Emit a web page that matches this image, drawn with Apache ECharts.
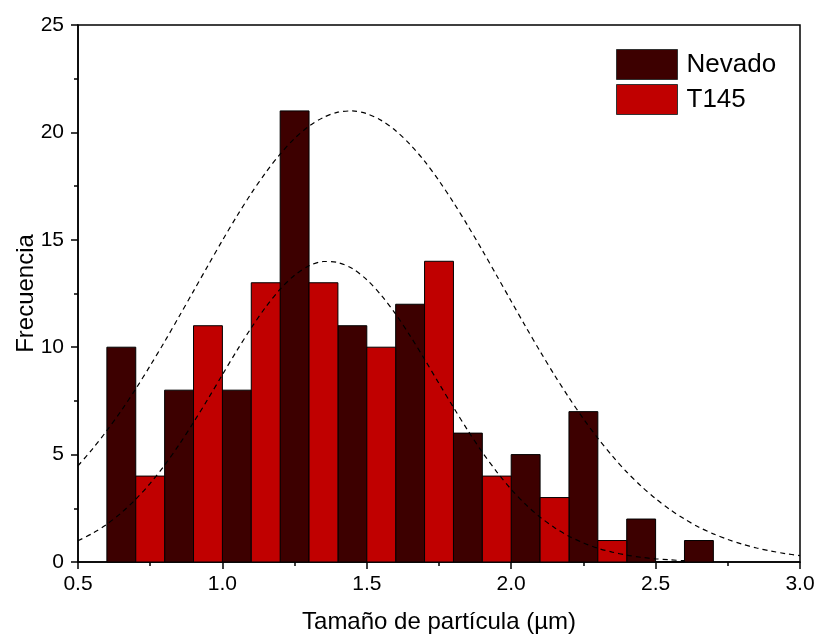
<!DOCTYPE html>
<html>
<head>
<meta charset="utf-8">
<script src="https://cdn.jsdelivr.net/npm/echarts@6/dist/echarts.min.js"></script>
<style>html,body{margin:0;padding:0;background:#fff}#c{width:818px;height:637px}</style>
</head>
<body>
<div id="c"></div>
<script>
// Histogram bins (left edge of each bar, bar width, counts)
var binWidth = 0.1;
var nevadoStart = [0.6, 0.8, 1.0, 1.2, 1.4, 1.6, 1.8, 2.0, 2.2, 2.4, 2.6];
var nevadoCounts = [10, 8, 8, 21, 11, 12, 6, 5, 7, 2, 1];
var t145Start = [0.7, 0.9, 1.1, 1.3, 1.5, 1.7, 1.9, 2.1, 2.3, 2.5];
var t145Counts = [4, 11, 13, 13, 10, 14, 4, 3, 1, 0];

// Fitted curves
var nevadoCurveX = [0.5,0.55,0.6,0.65,0.7,0.75,0.8,0.85,0.9,0.95,1.0,1.05,1.1,1.15,1.2,1.25,1.3,1.35,1.4,1.45,1.5,1.55,1.6,1.65,1.7,1.75,1.8,1.85,1.9,1.95,2.0,2.05,2.1,2.15,2.2,2.25,2.3,2.35,2.4,2.45,2.5,2.55,2.6,2.65,2.7,2.75,2.8,2.85,2.9,2.95,3.0];
var nevadoCurveY = [4.48,5.26,6.12,7.05,8.06,9.14,10.26,11.43,12.61,13.80,14.97,16.10,17.16,18.13,18.99,19.72,20.29,20.70,20.94,21.00,20.87,20.56,20.08,19.44,18.66,17.75,16.74,15.65,14.51,13.33,12.14,10.96,9.81,8.70,7.65,6.67,5.76,4.94,4.19,3.53,2.95,2.44,2.00,1.62,1.31,1.05,0.83,0.65,0.51,0.39,0.30];
var t145CurveX = [0.5,0.55,0.6,0.65,0.7,0.75,0.8,0.85,0.9,0.95,1.0,1.05,1.1,1.15,1.2,1.25,1.3,1.35,1.4,1.45,1.5,1.55,1.6,1.65,1.7,1.75,1.8,1.85,1.9,1.95,2.0,2.05,2.1,2.15,2.2,2.25,2.3,2.35,2.4,2.45,2.5,2.55,2.6];
var t145CurveY = [0.99,1.33,1.76,2.29,2.92,3.66,4.51,5.46,6.50,7.59,8.72,9.84,10.90,11.87,12.70,13.35,13.79,13.99,13.94,13.66,13.14,12.42,11.54,10.53,9.44,8.31,7.20,6.12,5.11,4.20,3.38,2.68,2.09,1.60,1.20,0.89,0.64,0.46,0.32,0.22,0.15,0.10,0.06];

var xTicks = ['0.5','1.0','1.5','2.0','2.5','3.0'];
var yTicks = ['0','5','10','15','20','25'];

function bins(starts, counts) {
  return starts.map(function (s, i) { return [s, s + binWidth, counts[i]]; });
}
function pts(xs, ys) { return xs.map(function (x, i) { return [x, ys[i]]; }); }

function renderBar(params, api) {
  var p0 = api.coord([api.value(0), api.value(2)]);
  var p1 = api.coord([api.value(1), 0]);
  return {
    type: 'rect',
    shape: { x: p0[0], y: p0[1], width: p1[0] - p0[0], height: p1[1] - p0[1] },
    style: { fill: api.visual('color'), stroke: '#000', lineWidth: 1 }
  };
}

var FONT = 'Liberation Sans, Arial, sans-serif';
var chart = echarts.init(document.getElementById('c'), null, { renderer: 'canvas' });
chart.setOption({
  animation: false,
  backgroundColor: '#fff',
  grid: { left: 78, right: 18, top: 25, bottom: 75, outerBoundsMode: 'none', containLabel: false,
    show: true, borderColor: '#000', borderWidth: 1.5, backgroundColor: 'transparent' },
  legend: {
    left: 611, top: 44, orient: 'vertical', itemWidth: 61, itemHeight: 30, itemGap: 4,
    icon: 'rect',
    textStyle: { fontFamily: FONT, fontSize: 26, color: '#000', padding: [0, 0, 0, 4] },
    data: [
      { name: 'Nevado', itemStyle: { color: '#3d0000', borderColor: '#333', borderWidth: 1 } },
      { name: 'T145', itemStyle: { color: '#c00000', borderColor: '#333', borderWidth: 1 } }
    ]
  },
  xAxis: {
    type: 'value', min: 0.5, max: 3.0, interval: 0.5,
    name: 'Tamaño de partícula (µm)', nameLocation: 'middle', nameGap: 48, nameMoveOverlap: false,
    nameTextStyle: { fontFamily: FONT, fontSize: 24, color: '#000' },
    axisLine: { lineStyle: { color: '#000', width: 1.5 } },
    axisTick: { show: true, inside: false, length: 7, lineStyle: { color: '#000', width: 1.5 } },
    minorTick: { show: true, splitNumber: 2, length: 4, lineStyle: { color: '#000', width: 1.5 } },
    splitLine: { show: false },
    axisLabel: { fontFamily: FONT, fontSize: 21, color: '#000', margin: 12,
      formatter: function (v) { var s = v.toFixed(1); return xTicks.indexOf(s) >= 0 ? s : ''; } }
  },
  yAxis: {
    type: 'value', min: 0, max: 25, interval: 5,
    name: 'Frecuencia', nameLocation: 'middle', nameGap: 40, nameMoveOverlap: false,
    nameTextStyle: { fontFamily: FONT, fontSize: 24, color: '#000' },
    axisLine: { show: true, lineStyle: { color: '#000', width: 1.5 } },
    axisTick: { show: true, inside: false, length: 7, lineStyle: { color: '#000', width: 1.5 } },
    minorTick: { show: true, splitNumber: 2, length: 4, lineStyle: { color: '#000', width: 1.5 } },
    splitLine: { show: false },
    axisLabel: { fontFamily: FONT, fontSize: 21, color: '#000', margin: 14,
      formatter: function (v) { var s = String(v); return yTicks.indexOf(s) >= 0 ? s : ''; } }
  },
  series: [
    { name: 'Nevado', type: 'custom', renderItem: renderBar, itemStyle: { color: '#3d0000' },
      encode: { x: [0, 1], y: 2 }, data: bins(nevadoStart, nevadoCounts), z: 2 },
    { name: 'T145', type: 'custom', renderItem: renderBar, itemStyle: { color: '#c00000' },
      encode: { x: [0, 1], y: 2 }, data: bins(t145Start, t145Counts), z: 2 },
    { name: 'fitN', type: 'line', smooth: 0.3, showSymbol: false, z: 5, silent: true,
      lineStyle: { color: '#000', width: 1.2, type: [5, 4] }, data: pts(nevadoCurveX, nevadoCurveY) },
    { name: 'fitT', type: 'line', smooth: 0.3, showSymbol: false, z: 5, silent: true,
      lineStyle: { color: '#000', width: 1.2, type: [5, 4] }, data: pts(t145CurveX, t145CurveY) }
  ]
});
</script>
</body>
</html>
